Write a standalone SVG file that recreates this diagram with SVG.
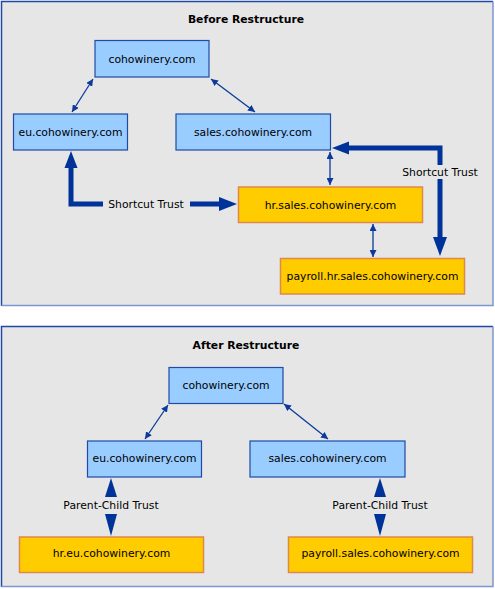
<svg xmlns="http://www.w3.org/2000/svg" width="495" height="589" viewBox="0 0 495 589">
<style>
.panel{fill:#e6e6e6;stroke:none}
.tl{fill:none;stroke:#1f48a8;stroke-width:1.5}
.br{fill:none;stroke:#7b96d0;stroke-width:1.5}
.blue{fill:#99ccff;stroke:#1f4aa6;stroke-width:1.2}
.orange{fill:#ffcc00;stroke:#e0884a;stroke-width:1.5}
text{font-family:"DejaVu Sans","Liberation Sans",sans-serif;font-size:10.8px;fill:#000;text-anchor:middle}
.title{font-weight:bold;font-size:10.8px}
.thin{fill:none;stroke:#0b3a9c;stroke-width:1.3}
.thick{fill:none;stroke:#003399;stroke-width:5}
.head{fill:#003399}
</style>
<defs>
<marker id="ah" viewBox="0 0 10 10" refX="10" refY="5" markerWidth="7" markerHeight="7" markerUnits="userSpaceOnUse" orient="auto-start-reverse">
<path d="M0,0 L10,5 L0,10 z" fill="#0b3a9c"/>
</marker>
</defs>

<g id="panel-before">
<rect class="panel" x="1" y="1" width="492" height="305"/>
<polyline class="tl" points="1.5,306 1.5,1.5 493,1.5"/>
<polyline class="br" points="493,1.5 493,305.5 1.5,305.5"/>
<text class="title" x="246" y="23">Before Restructure</text>
</g>

<g id="panel-after">
<rect class="panel" x="1" y="326" width="492" height="261"/>
<polyline class="tl" points="1.5,587 1.5,326.5 493,326.5"/>
<polyline class="br" points="493,326.5 493,586.5 1.5,586.5"/>
<text class="title" x="246" y="349">After Restructure</text>
</g>

<g id="connectors">
<line class="thin" x1="93" y1="79" x2="72" y2="112" marker-start="url(#ah)" marker-end="url(#ah)"/>
<line class="thin" x1="211" y1="79" x2="255" y2="112" marker-start="url(#ah)" marker-end="url(#ah)"/>
<line class="thin" x1="330" y1="152" x2="330" y2="185" marker-start="url(#ah)" marker-end="url(#ah)"/>
<line class="thin" x1="373" y1="224" x2="373" y2="257" marker-start="url(#ah)" marker-end="url(#ah)"/>
<!-- shortcut eu <-> hr.sales -->
<polyline class="thick" points="71,166 71,204 103,204"/>
<polygon class="head" points="71,151 64.5,168 77.5,168"/>
<text x="146" y="208">Shortcut Trust</text>
<line class="thick" x1="190" y1="204" x2="220" y2="204"/>
<polygon class="head" points="237,204 219,197 219,211"/>
<!-- shortcut payroll <-> sales -->
<polyline class="thick" points="347,148 440,148 440,165"/>
<polygon class="head" points="332,148 349,141.5 349,154.5"/>
<text x="440" y="176">Shortcut Trust</text>
<line class="thick" x1="440" y1="179" x2="440" y2="239"/>
<polygon class="head" points="440,256 433,237 447,237"/>
<!-- after -->
<line class="thin" x1="168" y1="405" x2="145" y2="439" marker-start="url(#ah)" marker-end="url(#ah)"/>
<line class="thin" x1="284" y1="404" x2="328" y2="439" marker-start="url(#ah)" marker-end="url(#ah)"/>
<polygon class="head" points="111,478 105,497 117,497"/>
<text x="111" y="509">Parent-Child Trust</text>
<polygon class="head" points="111,536 105,514 117,514"/>
<polygon class="head" points="380,478 374,497 386,497"/>
<text x="380" y="509">Parent-Child Trust</text>
<polygon class="head" points="380,536 374,514 386,514"/>
</g>

<g id="n-coho-before"><rect class="blue" x="95" y="40.5" width="114" height="36.5"/><text x="152" y="63">cohowinery.com</text></g>
<g id="n-eu-before"><rect class="blue" x="13.5" y="114" width="114" height="36"/><text x="70.5" y="136">eu.cohowinery.com</text></g>
<g id="n-sales-before"><rect class="blue" x="176" y="114" width="154.5" height="36"/><text x="253" y="136">sales.cohowinery.com</text></g>
<g id="n-hr-sales"><rect class="orange" x="238.5" y="187" width="184" height="35.5"/><text x="330.5" y="209">hr.sales.cohowinery.com</text></g>
<g id="n-payroll-hr"><rect class="orange" x="280.5" y="258.5" width="184" height="35.5"/><text x="372.5" y="280">payroll.hr.sales.cohowinery.com</text></g>

<g id="n-coho-after"><rect class="blue" x="169" y="367.5" width="114" height="36"/><text x="226" y="389">cohowinery.com</text></g>
<g id="n-eu-after"><rect class="blue" x="87.5" y="441" width="114" height="36"/><text x="144.5" y="462">eu.cohowinery.com</text></g>
<g id="n-sales-after"><rect class="blue" x="250" y="441" width="155" height="36"/><text x="327.5" y="462">sales.cohowinery.com</text></g>
<g id="n-hr-eu"><rect class="orange" x="19.5" y="537" width="184" height="35.5"/><text x="111.5" y="557">hr.eu.cohowinery.com</text></g>
<g id="n-payroll-sales"><rect class="orange" x="288.5" y="537" width="184" height="35.5"/><text x="380.5" y="557">payroll.sales.cohowinery.com</text></g>
</svg>
